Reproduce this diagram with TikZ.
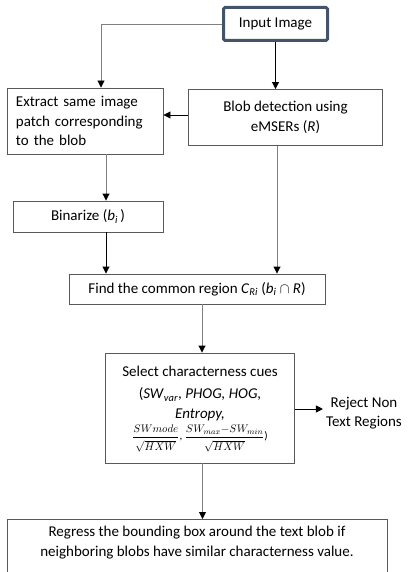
\documentclass[tikz,border=0pt]{standalone}
\usepackage{fontspec}
\setmainfont{Carlito}
\usetikzlibrary{arrows.meta,calc}
\definecolor{frame}{HTML}{44546A}
\definecolor{edge}{HTML}{595959}
\definecolor{lgray}{HTML}{7F7F7F}
\newcommand{\numsp}{\rule[-2.5pt]{0pt}{0pt}}
\newcommand{\densp}{\rule{0pt}{12pt}}
\begin{document}
\begin{tikzpicture}[x=1pt,y=-1pt,
  font=\fontsize{15}{19.5}\selectfont,
  box/.style={draw=edge, line width=0.9pt, rectangle, inner sep=0pt, align=center},
  arr/.style={line width=0.9pt, draw=black, -{Triangle[color=black,width=7pt,length=7pt]}},
  garr/.style={line width=0.9pt, draw=lgray, -{Triangle[color=black,width=7pt,length=7pt]}}]
\useasboundingbox (0,0) rectangle (409,572);
\clip (0,0) rectangle (409,572);
% nodes
\node[box, draw=frame, line width=3pt, rounded corners=1.5pt, minimum width=104pt, minimum height=33pt] (inp) at (275.5,24) {Input Image};
\node[box, minimum width=156pt, minimum height=66pt, text width=138pt, align=left, inner xsep=9pt] (ext) at (85,121) {Extract same image\\patch corresponding\\to the blob};
\node[box, minimum width=194pt, minimum height=56pt] (blob) at (285.5,117.5) {Blob detection using\\eMSERs (\textit{R})};
\node[box, minimum width=150pt, minimum height=31pt] (bin) at (88,216.5) {Binarize (\textit{b}\textsubscript{\textit{i}}\,)};
\node[box, minimum width=256pt, minimum height=30pt] (find) at (197,289) {Find the common region \textit{C}\textsubscript{\textit{Ri}} (\textit{b}\textsubscript{\textit{i}} $\cap$ \textit{R})};
\node[box, minimum width=189pt, minimum height=110pt, text depth=10pt] (sel) at (200,408) {%
  Select characterness cues\\[3pt]
  (\textit{SW}\textsubscript{\textit{var}}, \textit{PHOG, HOG,}\\
  \textit{Entropy,}\\[2pt]
  {\fontsize{11}{12}\selectfont$\displaystyle\frac{\numsp SWmode}{\densp\sqrt{HXW}}$, $\displaystyle\frac{\numsp SW_{max}{-}SW_{min}}{\densp\sqrt{HXW}}$)}};
\node[inner sep=0pt, align=center, font=\fontsize{15}{19.5}\selectfont] (rej) at (364,413) {Reject Non\\Text Regions};
\node[box, anchor=north, minimum width=380pt, inner ysep=7pt, text depth=15pt] (reg) at (197,519) {Regress the bounding box around the text blob if\\neighboring blobs have similar characterness value.};
% connectors
\draw[garr] (inp.west) -| ([xshift=16pt]ext.north);
\draw[arr] (inp.south) -- (inp.south |- blob.north);
\draw[arr] ([yshift=2.5pt]blob.west) -- ([yshift=2.5pt]blob.west -| ext.east);
\draw[garr] ([xshift=21pt]ext.south) -- ([xshift=21pt]ext.south |- bin.north);
\draw[arr] ([xshift=18pt]bin.south) -- ([xshift=18pt]bin.south |- find.north);
\draw[garr] ([xshift=-8.5pt]blob.south) -- ([xshift=-8.5pt]blob.south |- find.north);
\draw[garr] ([xshift=5pt]find.south) -- ([xshift=5pt]find.south |- sel.north);
\draw[arr] ([yshift=-1pt]sel.east) -- ([yshift=-1pt]sel.east -| {$(rej.west)+(-3,0)$});
\draw[garr] ([xshift=2.5pt]sel.south) -- ([xshift=2.5pt]sel.south |- reg.north);
\end{tikzpicture}
\end{document}
